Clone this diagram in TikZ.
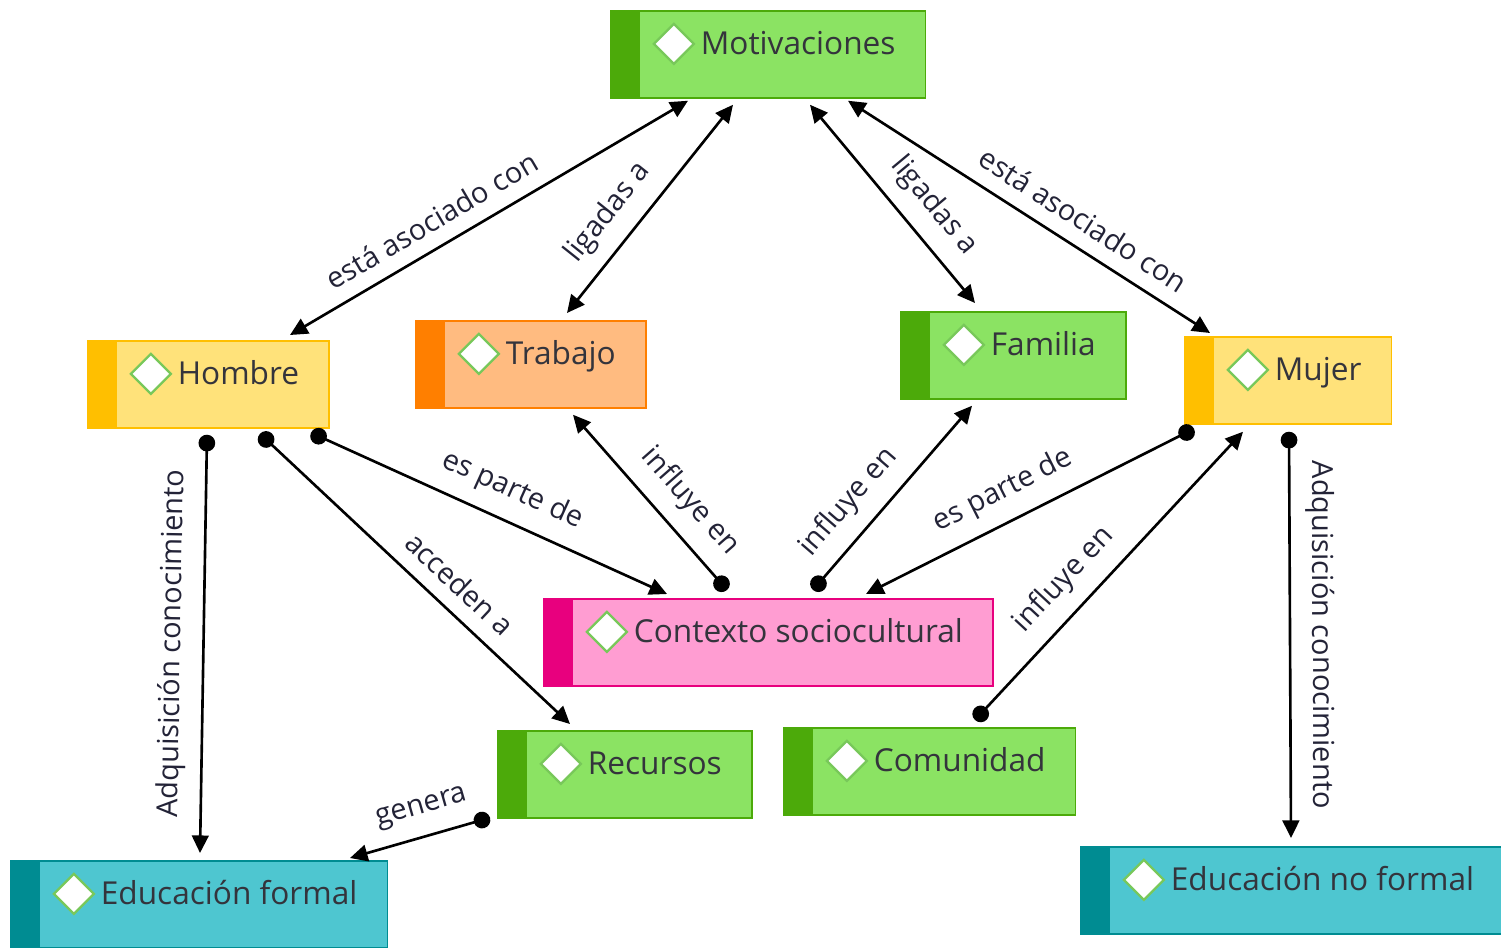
\documentclass[tikz,border=0pt]{standalone}
\usepackage{fontspec}
\setmainfont{Open Sans}
\usetikzlibrary{arrows.meta}

\definecolor{greenfill}{RGB}{139,227,99}
\definecolor{greenedge}{RGB}{76,170,10}
\definecolor{yellowfill}{RGB}{255,226,122}
\definecolor{yellowedge}{RGB}{255,191,0}
\definecolor{orangefill}{RGB}{255,187,128}
\definecolor{orangeedge}{RGB}{255,127,0}
\definecolor{pinkfill}{RGB}{255,157,210}
\definecolor{pinkedge}{RGB}{232,0,126}
\definecolor{tealfill}{RGB}{78,198,208}
\definecolor{tealedge}{RGB}{0,140,146}
\definecolor{iconline}{RGB}{120,200,90}
\definecolor{conceptText}{RGB}{52,52,60}
\definecolor{linkText}{RGB}{35,35,55}

\tikzset{
  concept/.style 2 args={rectangle, draw=#2, line width=1pt, fill=#1,
    anchor=north west, inner xsep=0.6cm, inner ysep=0pt,
    text height=0.88cm, text depth=0.86cm, text=conceptText,
    font=\fontsize{18}{20}\selectfont,
    execute at begin node={\hspace*{1.2cm}},
    path picture={
      \fill[#2] (path picture bounding box.north west) rectangle
        ([xshift=0.58cm]path picture bounding box.south west);
      \draw[iconline, line width=1.3pt, fill=white]
        ([shift={(1.26cm,-0.66cm)}]path picture bounding box.north west)
        +(-0.4cm,0) -- +(0,0.4cm) -- +(0.4cm,0) -- +(0,-0.4cm) -- cycle;
    }},
  greenbox/.style={concept={greenfill}{greenedge}},
  yellowbox/.style={concept={yellowfill}{yellowedge}},
  orangebox/.style={concept={orangefill}{orangeedge}},
  pinkbox/.style={concept={pinkfill}{pinkedge}},
  tealbox/.style={concept={tealfill}{tealedge}},
  Dot/.tip={Circle[length=9.5pt]},
}

\begin{document}
\begin{tikzpicture}[x=0.02cm, y=-0.02cm]
\useasboundingbox (0,0) rectangle (1501,947);

% concepts
\node[greenbox]  (motiv)     at (610,10)   {Motivaciones};
\node[yellowbox] (hombre)    at (87,340)   {Hombre};
\node[orangebox] (trabajo)   at (415,320)  {Trabajo};
\node[greenbox]  (familia)   at (900,311)  {Familia};
\node[yellowbox] (mujer)     at (1184,336) {Mujer};
\node[pinkbox]   (contexto)  at (543,598)  {Contexto sociocultural};
\node[greenbox]  (recursos)  at (497,730)  {Recursos};
\node[greenbox]  (comunidad) at (783,727)  {Comunidad};
\node[tealbox]   (formal)    at (10,860)   {Educación formal};
\node[tealbox]   (noformal)  at (1080,846) {Educación no formal};

% links
\begin{scope}[>={Triangle[length=10pt,width=9.5pt]},
              every node/.style={sloped, above=5pt, text=linkText,
                                 font=\fontsize{16.5}{18}\selectfont},
              every edge/.style={draw=black, line width=1.5pt}]
    \path [<->] ([shift={(203,-5)}]hombre.north west) edge node[pos=0.39] {está asociado con} ([shift={(78,2)}]motiv.south west);
    \path [<->] ([shift={(152,-7)}]trabajo.north west) edge node[pos=0.39] {ligadas a} ([shift={(123,6)}]motiv.south west);
    \path [<->] ([shift={(200,6)}]motiv.south west) edge node[pos=0.61] {ligadas a} ([shift={(75,-8)}]familia.north west);
    \path [<->] ([shift={(238,2)}]motiv.south west) edge node[pos=0.61] {está asociado con} ([shift={(26,-3)}]mujer.north west);
    \path [<-Dot] ([shift={(190,-7)}]formal.north west) edge node {Adquisición conocimiento} ([shift={(120,6)}]hombre.south west);
    \path [Dot->] ([shift={(173,5)}]hombre.south west) edge node[pos=0.585] {acceden a} ([shift={(73,-6)}]recursos.north west);
    \path [Dot->] ([shift={(224,4)}]hombre.south west) edge node[pos=0.53] {es parte de} ([shift={(124,-4)}]contexto.north west);
    \path [<-Dot] ([shift={(158,6)}]trabajo.south west) edge node[pos=0.61] {influye en} ([shift={(184,-8)}]contexto.north west);
    \path [Dot->] ([shift={(270,-8)}]contexto.north west) edge node[pos=0.37] {influye en} ([shift={(72,6)}]familia.south west);
    \path [<-Dot] ([shift={(323,-4)}]contexto.north west) edge node[pos=0.46] {es parte de} ([shift={(10,4)}]mujer.south west);
    \path [Dot->] ([shift={(192,-7)}]comunidad.north west) edge node[pos=0.415] {influye en} ([shift={(59,7)}]mujer.south west);
    \path [Dot->] ([shift={(105,7)}]mujer.south west) edge node {Adquisición conocimiento} ([shift={(211,-8)}]noformal.north west);
    \path [<-Dot] ([shift={(340,-2)}]formal.north west) edge node[pos=0.57] {genera} ([shift={(-7,-1)}]recursos.south west);
\end{scope}
\end{tikzpicture}
\end{document}
